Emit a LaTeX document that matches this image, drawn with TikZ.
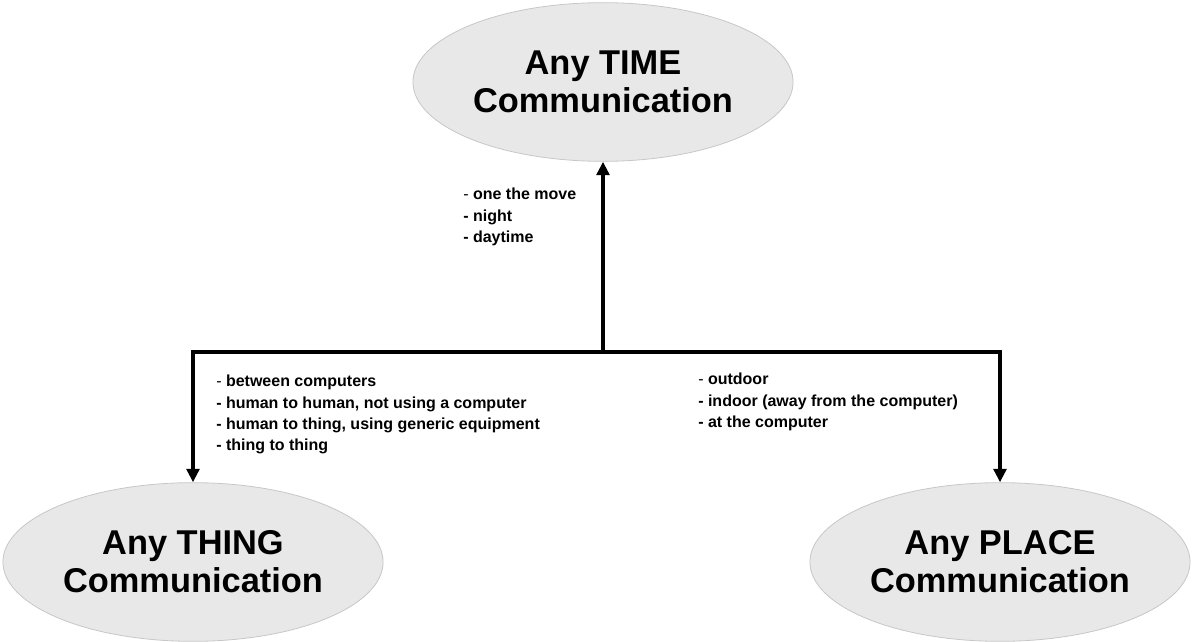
\documentclass[tikz,border=0pt]{standalone}
\usepackage{fontspec}
\setmainfont{Liberation Sans}
\usetikzlibrary{shapes.geometric,arrows.meta}
\tikzset{>={Triangle[length=10pt,width=9.5pt]}}
\tikzset{
  goal/.style={ellipse, draw=black!22, fill=black!9, line width=0.6pt,
    minimum width=285pt, minimum height=119pt, align=center,
    font=\fontsize{25.8}{28.5}\selectfont\bfseries},
  notes/.style={anchor=north west, inner sep=0pt, align=left,
    font=\fontsize{12}{16}\selectfont\bfseries},
  link/.style={line width=3pt}
}
\newcommand{\thindash}{{\mdseries -}}

\begin{document}
\begin{tikzpicture}[x=0.75pt,y=-0.75pt]
  \useasboundingbox (0,0) rectangle (1192,642);
  \node[goal] (time) at (603,82) {Any TIME\\Communication};
  \node[goal] (thing) at (193,562) {Any THING\\Communication};
  \node[goal] (place) at (1000,562) {Any PLACE\\Communication};
  \coordinate (J) at (603,352);
  \begin{scope}[link,->]
    \draw (J) -- (time.south);
    \draw (J) -| (thing.north);
    \draw (J) -| (place.north);
  \end{scope}
  \node[notes] (whenlist) at (463,188) {\thindash\ one the move\\- night\\- daytime};
  \node[notes] (whatlist) at (216,375) {\thindash\ between computers\\- human to human, not using a computer\\- human to thing, using generic equipment\\- thing to thing};
  \node[notes] (wherelist) at (698,373) {\thindash\ outdoor\\- indoor (away from the computer)\\- at the computer};
\end{tikzpicture}
\end{document}
